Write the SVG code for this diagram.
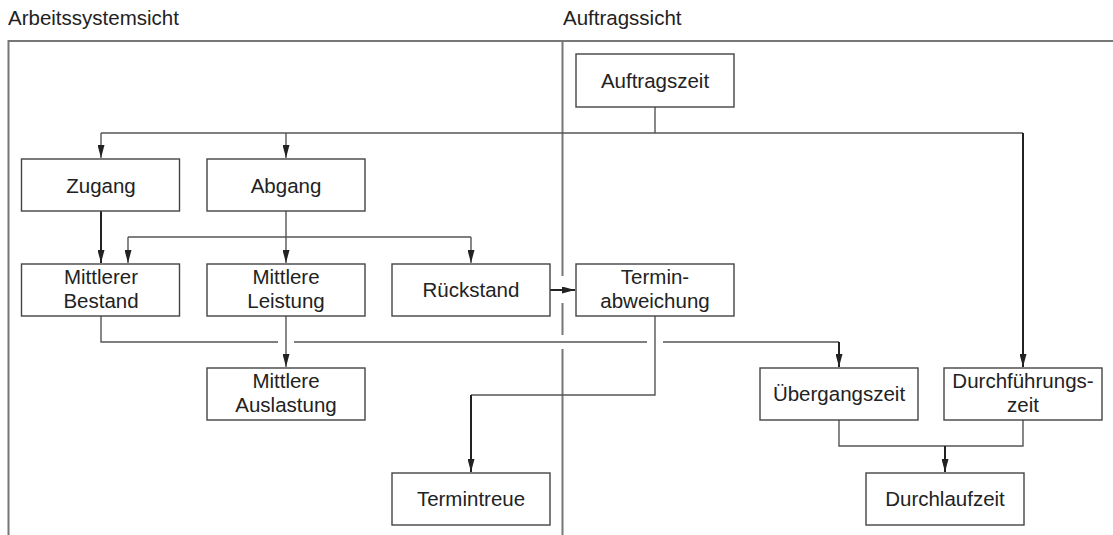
<svg xmlns="http://www.w3.org/2000/svg" width="1113" height="535" viewBox="0 0 1113 535">
<style>
text{font-family:"Liberation Sans",Arial,sans-serif;font-size:20.5px;fill:#222;}
.t{text-anchor:middle;}
.box{fill:#fff;stroke:#444;stroke-width:1.4;}
.frame{fill:none;stroke:#777;stroke-width:2;}
.c{fill:none;stroke:#555;stroke-width:1.4;}
.k{fill:none;stroke:#222;stroke-width:2;}
</style>
<defs>
<marker id="ah" markerUnits="userSpaceOnUse" markerWidth="13" markerHeight="7" refX="13" refY="3.5" orient="auto">
<path d="M0,0 L13,3.5 L0,7 z" fill="#222"/>
</marker>
</defs>
<rect width="1113" height="535" fill="#fff"/>
<g id="frame">
<text x="8" y="25">Arbeitssystemsicht</text>
<text x="563" y="25">Auftragssicht</text>
<path class="frame" d="M8.5,535 V41 H1113"/>
<path class="frame" d="M562.5,41 V276 M562.5,303 V335 M562.5,349 V535"/>
</g>
<g id="connectors">
<path class="c" d="M655,107 V133 M101,133 H1023"/>
<path class="c" d="M101,133 V158" marker-end="url(#ah)"/>
<path class="c" d="M286,133 V158" marker-end="url(#ah)"/>
<path class="k" d="M1023,133 V367" marker-end="url(#ah)"/>
<path class="k" d="M101,211 V263" marker-end="url(#ah)"/>
<path class="c" d="M286,211 V263" marker-end="url(#ah)"/>
<path class="c" d="M128,237 H471"/>
<path class="c" d="M128,237 V263" marker-end="url(#ah)"/>
<path class="c" d="M471,237 V263" marker-end="url(#ah)"/>
<path class="k" d="M550,290 H575" marker-end="url(#ah)"/>
<path class="c" d="M101,316 V342 H278 M294,342 H647 M663,342 H839"/>
<path class="k" d="M839,342 V367" marker-end="url(#ah)"/>
<path class="c" d="M286,316 V367" marker-end="url(#ah)"/>
<path class="c" d="M655,316 V395 H471"/>
<path class="k" d="M471,395 V472" marker-end="url(#ah)"/>
<path class="c" d="M839,420 V446 H1023 V420"/>
<path class="k" d="M945,446 V472" marker-end="url(#ah)"/>
</g>
<g id="auftragszeit"><rect class="box" x="576" y="54" width="158" height="53"/><text class="t" x="655" y="88">Auftragszeit</text></g>
<g id="zugang"><rect class="box" x="21.5" y="159" width="158" height="52"/><text class="t" x="101" y="193">Zugang</text></g>
<g id="abgang"><rect class="box" x="207" y="159" width="158" height="52"/><text class="t" x="286" y="193">Abgang</text></g>
<g id="mittlerer-bestand"><rect class="box" x="21.5" y="264" width="158" height="52"/><text class="t" x="101" y="284">Mittlerer</text><text class="t" x="101" y="308">Bestand</text></g>
<g id="mittlere-leistung"><rect class="box" x="207" y="264" width="158" height="52"/><text class="t" x="286" y="284">Mittlere</text><text class="t" x="286" y="308">Leistung</text></g>
<g id="rueckstand"><rect class="box" x="392" y="264" width="158" height="52"/><text class="t" x="471" y="297">Rückstand</text></g>
<g id="terminabweichung"><rect class="box" x="576" y="264" width="158" height="52"/><text class="t" x="655" y="284">Termin-</text><text class="t" x="655" y="308">abweichung</text></g>
<g id="mittlere-auslastung"><rect class="box" x="207" y="368" width="158" height="52"/><text class="t" x="286" y="388">Mittlere</text><text class="t" x="286" y="412">Auslastung</text></g>
<g id="uebergangszeit"><rect class="box" x="760" y="368" width="158" height="52"/><text class="t" x="839" y="401">Übergangszeit</text></g>
<g id="durchfuehrungszeit"><rect class="box" x="944" y="368" width="158" height="52"/><text class="t" x="1023" y="388">Durchführungs-</text><text class="t" x="1023" y="412">zeit</text></g>
<g id="termintreue"><rect class="box" x="392" y="473" width="158" height="52"/><text class="t" x="471" y="506">Termintreue</text></g>
<g id="durchlaufzeit"><rect class="box" x="866" y="473" width="158" height="52"/><text class="t" x="945" y="506">Durchlaufzeit</text></g>
</svg>
